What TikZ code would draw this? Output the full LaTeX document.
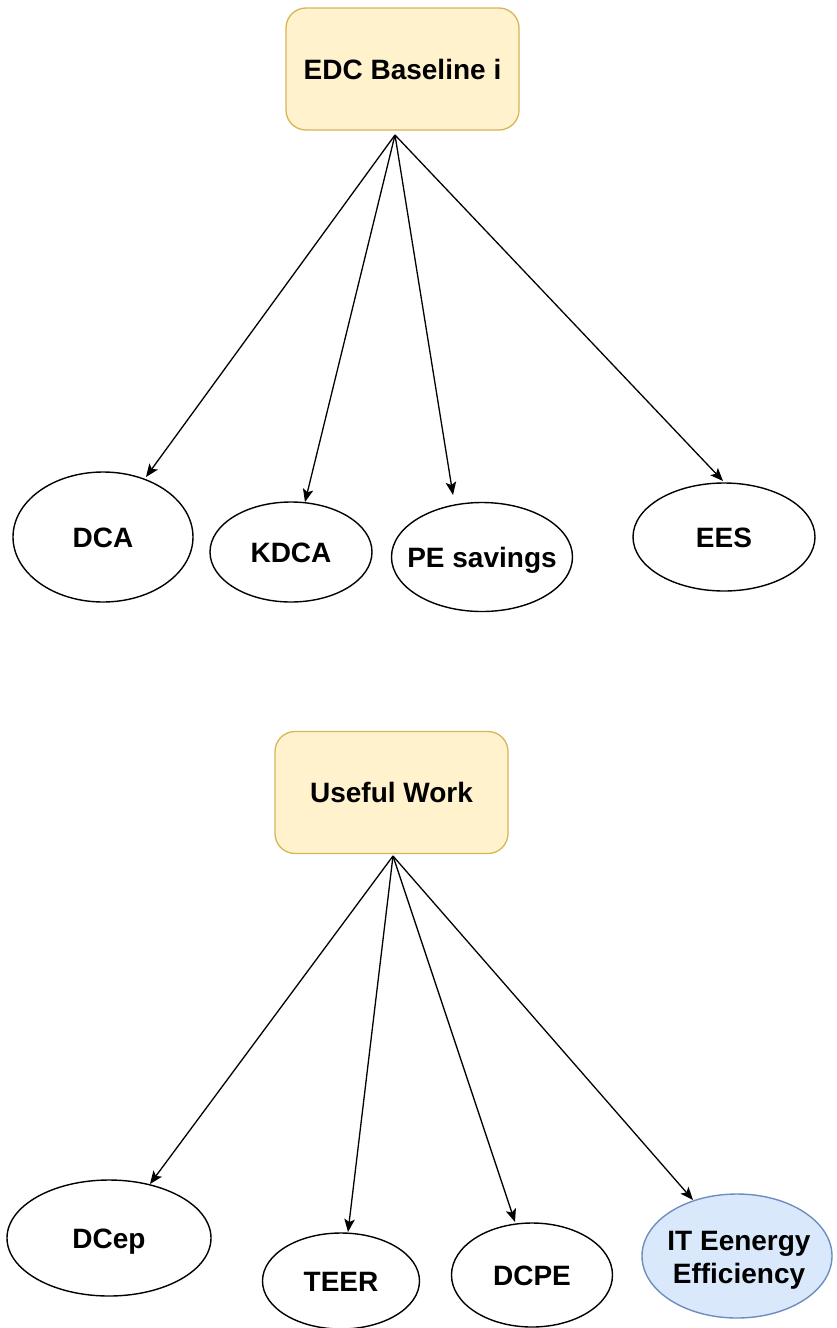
\documentclass[tikz,border=0pt]{standalone}
\usepackage{fontspec}
\setmainfont{Liberation Sans}
\usetikzlibrary{shapes.geometric,arrows.meta}
\definecolor{hdrfill}{HTML}{FFF2CC}
\definecolor{hdrline}{HTML}{D6B656}
\definecolor{bluefill}{HTML}{DAE8FC}
\definecolor{blueline}{HTML}{6C8EBF}
\begin{document}
\begin{tikzpicture}[x=1pt,y=-1pt,
  txt/.style={font=\fontsize{28}{33}\selectfont\bfseries, align=center},
  word/.style={txt, text height=20pt, text depth=0pt},
  hdr/.style={draw=hdrline, fill=hdrfill, line width=1.3pt, rounded corners=20pt,
    minimum width=233pt, minimum height=122pt, inner sep=0pt, word},
  oval/.style={draw, ellipse, line width=1.4pt, inner sep=0pt},
  link/.style={-{Stealth[length=13pt,width=10.5pt,inset=3pt]}, line width=1.3pt}]
  \useasboundingbox (0,0) rectangle (837,1328);

  % upper group
  \node[hdr] (edc) at (402.5,69) {EDC Baseline i};
  \node[oval, minimum width=180pt, minimum height=130pt, label={[word]center:DCA}] (dca) at (103,537) {};
  \node[oval, minimum width=162pt, minimum height=100pt, label={[word]center:KDCA}] (kdca) at (291,552) {};
  \node[oval, minimum width=181pt, minimum height=109pt, label={[word]center:PE savings}] (pes) at (482,557) {};
  \node[oval, minimum width=182pt, minimum height=108pt, label={[word]center:EES}] (ees) at (724,537) {};

  \coordinate (edcout) at (395,135);
  \coordinate (tdca) at (146,477);
  \coordinate (tkdca) at (305,502);
  \coordinate (tpes) at (453,495);
  \coordinate (tees) at (723,481);
  \draw[link] (edcout) -- (tdca);
  \draw[link] (edcout) -- (tkdca);
  \draw[link] (edcout) -- (tpes);
  \draw[link] (edcout) -- (tees);

  % lower group
  \node[hdr] (uw) at (391.5,792.5) {Useful Work};
  \node[oval, minimum width=204pt, minimum height=116pt, label={[word]center:DCep}] (dcep) at (109,1238) {};
  \node[oval, minimum width=157pt, minimum height=96pt, label={[word]center:TEER}] (teer) at (341,1281) {};
  \node[oval, minimum width=161pt, minimum height=104pt, label={[word]center:DCPE}] (dcpe) at (532,1275) {};
  \node[oval, draw=blueline, fill=bluefill, minimum width=190pt, minimum height=124pt,
    label={[txt, xshift=2pt, yshift=-4pt]center:IT Eenergy\\Efficiency}] (itee) at (737,1256) {};

  \coordinate (uwout) at (393,856);
  \coordinate (tdcep) at (150,1184);
  \coordinate (tteer) at (348,1232);
  \coordinate (tdcpe) at (515,1222);
  \coordinate (titee) at (693,1200);
  \draw[link] (uwout) -- (tdcep);
  \draw[link] (uwout) -- (tteer);
  \draw[link] (uwout) -- (tdcpe);
  \draw[link] (uwout) -- (titee);
\end{tikzpicture}
\end{document}
